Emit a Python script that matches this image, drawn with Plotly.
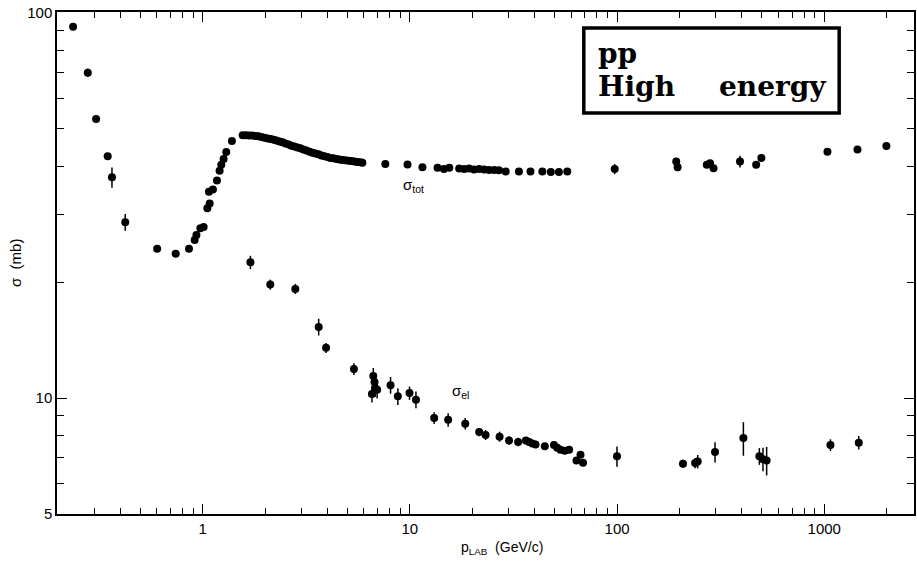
import plotly.graph_objects as go

# ---------------- data ----------------
# sigma_tot : low-energy region and rising edge
tot_p_low = [0.237, 0.279, 0.306, 0.348, 0.365, 0.423, 0.603, 0.741, 0.859, 0.915,
             0.933, 0.975, 1.011, 1.053, 1.081, 1.072, 1.121, 1.172, 1.207, 1.230,
             1.262, 1.300, 1.384]
tot_s_low = [92.0, 69.9, 53.0, 42.4, 37.4, 28.6, 24.4, 23.7, 24.4, 25.7,
             26.5, 27.6, 27.8, 31.1, 32.0, 34.3, 34.8, 36.7, 38.9, 40.3,
             41.7, 43.5, 46.5]
tot_e_low = [1, 2.5, 1, 1, 6, 5, 0, 0, 0, 0,
             0, 0, 0, 0, 0, 0, 0, 0, 0, 0,
             0, 0, 0]
# sigma_tot : dense band 1.5 - 6 GeV/c
tot_p_band = [1.56, 1.62, 1.68, 1.74, 1.80, 1.86, 1.92, 1.99, 2.06, 2.13,
              2.20, 2.27, 2.35, 2.43, 2.51, 2.60, 2.68, 2.77, 2.87, 2.96,
              3.06, 3.17, 3.28, 3.39, 3.50, 3.62, 3.74, 3.87, 4.00, 4.13,
              4.27, 4.42, 4.57, 4.72, 4.88, 5.05, 5.22, 5.40, 5.58, 5.77, 5.90]
tot_s_band = [48.1, 48.1, 48.0, 48.0, 47.9, 47.8, 47.6, 47.4, 47.2, 47.0,
              46.8, 46.6, 46.3, 46.1, 45.8, 45.5, 45.2, 45.0, 44.7, 44.5,
              44.2, 43.9, 43.6, 43.3, 43.1, 42.9, 42.6, 42.4, 42.2, 42.0,
              41.9, 41.7, 41.6, 41.5, 41.4, 41.3, 41.25, 41.1, 41.0, 40.9, 40.8]
# sigma_tot : 7 - 60 GeV/c
tot_p_mid = [7.61, 9.74, 11.5, 13.6, 14.6, 15.5, 17.3, 18.3, 19.3, 20.4, 21.6,
             22.8, 24.1, 25.5, 26.9, 29.0, 33.6, 38.2, 43.6, 47.9, 52.4, 57.5]
tot_s_mid = [40.5, 40.4, 39.7, 39.6, 39.3, 39.6, 39.4, 39.3, 39.4, 39.2, 39.3,
             39.2, 39.1, 39.1, 39.0, 38.7, 38.7, 38.7, 38.7, 38.6, 38.6, 38.7]
# sigma_tot : high energy
tot_p_high = [97.4, 193, 196, 271, 281, 292, 392, 469, 497, 1036, 1446, 1994]
tot_s_high = [39.3, 41.1, 39.7, 40.3, 40.7, 39.5, 41.1, 40.3, 42.0, 43.6, 44.2, 45.1]
tot_e_high = [3, 2, 2, 1.5, 1.5, 1.5, 3.5, 2, 2, 0.5, 0.5, 0]

# sigma_el
el_p = [1.70, 2.12, 2.80, 3.63, 3.94, 5.37, 6.56, 6.66, 6.75, 6.81, 6.95,
        8.07, 8.75, 9.96, 10.7, 13.1, 15.3, 18.5, 21.6, 23.2, 27.1, 30.1, 33.3,
        36.3, 37.6, 39.0, 40.4, 44.8, 49.6, 51.4, 53.3, 55.9, 58.7,
        63.7, 66.6, 68.5, 99.9, 208, 238, 245, 297, 407, 486, 506, 527, 1071, 1467]
el_s = [22.5, 19.7, 19.2, 15.3, 13.5, 11.9, 10.25, 11.4, 11.0, 10.6, 10.5,
        10.8, 10.1, 10.3, 9.9, 8.87, 8.78, 8.58, 8.16, 8.02, 7.94, 7.76, 7.69,
        7.76, 7.69, 7.62, 7.58, 7.5, 7.55, 7.43, 7.34, 7.30, 7.34,
        6.88, 7.13, 6.79, 7.06, 6.75, 6.78, 6.84, 7.24, 7.87, 7.06, 6.94, 6.88, 7.55, 7.66]
el_e = [4, 3, 3, 5, 3, 3.5, 5, 5, 5, 5, 5,
        5, 5, 4, 5, 3.5, 4, 3.5, 2.5, 3, 3, 2.5, 2.5,
        1, 1, 1, 1, 1, 1, 1, 1, 1, 1,
        0, 0, 0, 6, 2.5, 3, 4, 6, 10, 5, 7, 8.5, 3.5, 4]

x_ticks = [1, 10, 100, 1000]
x_minor = [0.3, 0.4, 0.5, 0.6, 0.7, 0.8, 0.9, 2, 3, 4, 5, 6, 7, 8, 9,
           20, 30, 40, 50, 60, 70, 80, 90, 200, 300, 400, 500, 600, 700, 800, 900, 2000]
y_ticks = [5, 10, 100]
y_minor = [6, 7, 8, 9, 20, 30, 40, 50, 60, 70, 80, 90]

# ---------------- figure ----------------
tot_p = tot_p_low + tot_p_band + tot_p_mid + tot_p_high
tot_s = tot_s_low + tot_s_band + tot_s_mid + tot_s_high
tot_e = tot_e_low + [0] * len(tot_p_band) + [0] * len(tot_p_mid) + tot_e_high
tot_err = [s * e / 100 for s, e in zip(tot_s, tot_e)]
el_err = [s * e / 100 for s, e in zip(el_s, el_e)]

marker = dict(color="black", size=8)
errstyle = dict(type="data", thickness=1.5, width=0, color="black")

fig = go.Figure()
fig.add_trace(go.Scatter(x=tot_p, y=tot_s, mode="markers", marker=marker,
                         error_y=dict(array=tot_err, **errstyle), name="σ_tot"))
fig.add_trace(go.Scatter(x=el_p, y=el_s, mode="markers", marker=marker,
                         error_y=dict(array=el_err, **errstyle), name="σ_el"))

axis_common = dict(showline=True, linecolor="black", linewidth=1.5, mirror="ticks",
                   ticks="inside", ticklen=10, tickwidth=1.3, tickcolor="black",
                   showgrid=False, zeroline=False,
                   tickfont=dict(family="Liberation Sans", size=15, color="black"))

fig.update_xaxes(type="log", range=[-0.703, 3.433], tickmode="array",
                 tickvals=x_ticks, ticktext=[str(v) for v in x_ticks],
                 minor=dict(tickmode="array", tickvals=x_minor, ticks="inside",
                            ticklen=6, tickwidth=1.2, tickcolor="black"),
                 **axis_common)
fig.update_yaxes(type="log", range=[0.699, 2.002], tickmode="array",
                 tickvals=y_ticks, ticktext=[str(v) for v in y_ticks],
                 minor=dict(tickmode="array", tickvals=y_minor, ticks="inside",
                            ticklen=7, tickwidth=1.2, tickcolor="black"),
                 **axis_common)

fig.update_layout(width=917, height=563, margin=dict(l=57, r=1, t=12, b=49),
                  paper_bgcolor="white", plot_bgcolor="white", showlegend=False,
                  font=dict(family="Liberation Sans", color="black"))

# legend-like box
fig.add_shape(type="rect", xref="paper", yref="paper",
              x0=0.6147, x1=0.9127, y0=0.7988, y1=0.9681,
              line=dict(color="black", width=3.5), fillcolor="white", layer="above")
box_font = dict(family="DejaVu Serif", size=28, color="black", weight="bold")
fig.add_annotation(xref="paper", yref="paper", x=0.6295, y=0.917, xanchor="left",
                   yanchor="middle", text="pp", showarrow=False, font=box_font)
fig.add_annotation(xref="paper", yref="paper", x=0.6295, y=0.851, xanchor="left",
                   yanchor="middle", text="High", showarrow=False, font=box_font)
fig.add_annotation(xref="paper", yref="paper", x=0.9000, y=0.851, xanchor="right",
                   yanchor="middle", text="energy", showarrow=False, font=box_font)

# curve labels
lab_font = dict(family="Liberation Sans", size=15, color="black")
fig.add_annotation(xref="paper", yref="paper", x=0.4016, y=0.6534, xanchor="left",
                   yanchor="middle", text="σ<sub>tot</sub>", showarrow=False, font=lab_font)
fig.add_annotation(xref="paper", yref="paper", x=0.4587, y=0.245, xanchor="left",
                   yanchor="middle", text="σ<sub>el</sub>", showarrow=False, font=lab_font)

# axis titles
fig.add_annotation(xref="paper", yref="paper", x=-0.049, y=0.5, xanchor="center",
                   yanchor="middle", text="σ  (mb)", textangle=-90, showarrow=False,
                   font=dict(family="Liberation Sans", size=15, color="black"))
fig.add_annotation(xref="paper", yref="paper", x=0.4692, y=-0.068, xanchor="left",
                   yanchor="middle", text="p<sub>LAB</sub>  (GeV/c)", showarrow=False,
                   font=dict(family="Liberation Sans", size=14, color="black"))

fig.write_html("out.html", config={"displayModeBar": False},
               post_script="document.body.style.margin='0';")
